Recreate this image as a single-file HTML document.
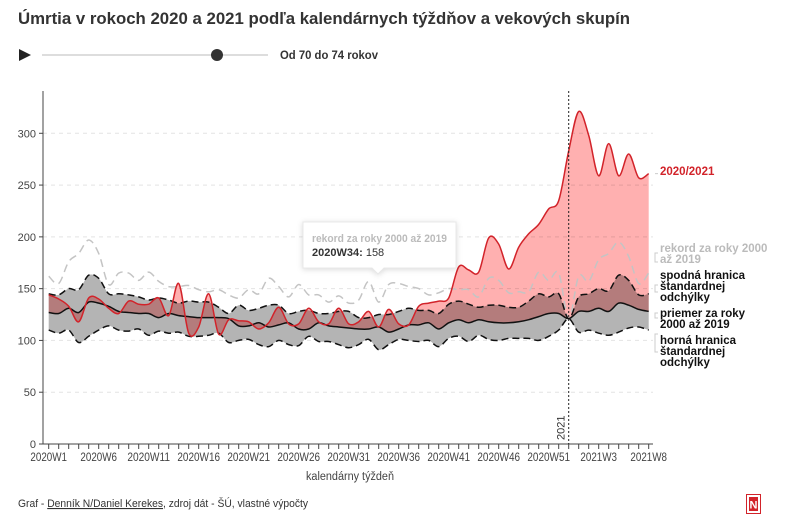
<!DOCTYPE html>
<html><head><meta charset="utf-8"><style>
body{margin:0;width:800px;height:531px;background:#fff;font-family:"Liberation Sans",sans-serif;overflow:hidden}
svg{display:block}
</style></head><body>
<svg id="c" width="800" height="531" xmlns="http://www.w3.org/2000/svg">
<text x="18" y="24" font-size="17" font-weight="bold" fill="#333" textLength="612" lengthAdjust="spacingAndGlyphs">Úmrtia v rokoch 2020 a 2021 podľa kalendárnych týždňov a vekových skupín</text>
<polygon points="19,49 19,61 31,55" fill="#222"/>
<line x1="42" y1="55" x2="268" y2="55" stroke="#ddd" stroke-width="2"/>
<circle cx="217" cy="55" r="6" fill="#333"/>
<text x="280" y="59" font-size="11.5" font-weight="bold" fill="#333" textLength="98" lengthAdjust="spacingAndGlyphs">Od 70 do 74 rokov</text>
<g id="plot"></g>
<text x="18" y="507" font-size="11" fill="#333" textLength="290" lengthAdjust="spacingAndGlyphs">Graf - <tspan text-decoration="underline">Denník N/Daniel Kerekes</tspan>, zdroj dát - ŠÚ, vlastné výpočty</text>
<rect x="746.5" y="494.5" width="14" height="19" fill="#fff" stroke="#d2232a"/>
<rect x="749" y="497" width="9" height="14" fill="#d2232a"/>
<text x="753.5" y="508.5" font-size="11" font-weight="bold" fill="#fff" text-anchor="middle">N</text>
</svg>
<script>
const weeks=[];for(let i=1;i<=53;i++)weeks.push('2020W'+i);for(let i=1;i<=8;i++)weeks.push('2021W'+i);
const current=[144,140,133,118,141,140,131,126,138,135,135,141,124,155,107,113,145,106,120,119,118,111,117,132,116,116,131,118,116,131,116,118,128,113,130,116,115,133,136,138,141,171,168,166,199,193,169,190,203,212,227,235,283,321,298,259,290,259,280,257,261];
const meanV=[127,126,131,127,137,136,133,128,127,126,126,122,126,124,123,122,122,122,121,114,114,117,113,115,117,111,111,117,114,113,112,111,111,113,108,111,115,115,117,111,117,120,117,120,118,117,117,118,120,123,126,126,121,128,128,131,128,136,134,130,128];
const upperV=[145,144,150,149,163,160,145,145,144,142,139,141,139,136,138,137,137,132,126,134,129,131,134,134,126,128,129,126,126,128,128,122,122,125,125,128,131,129,129,126,135,138,135,132,134,134,132,132,138,145,142,145,121,142,145,150,148,163,158,144,145];
const lowerV=[110,107,110,98,104,110,114,110,109,111,105,109,107,108,104,104,105,107,98,100,101,96,94,100,96,95,104,99,99,96,93,96,101,91,96,101,100,99,100,94,102,104,99,105,101,100,102,102,102,100,104,110,121,108,110,107,105,108,112,113,110];
const recordV=[162,155,176,184,197,184,154,165,165,158,166,157,152,152,153,149,147,149,144,141,149,145,160,152,142,154,144,144,137,143,136,139,157,137,154,155,152,150,144,146,150,149,149,142,160,158,146,147,147,166,158,165,121,162,157,178,184,195,181,155,165];
const yTicks=[0,50,100,150,200,250,300];
const xLabelIdx=[0,5,10,15,20,25,30,35,40,45,50,55,60];

const NS='http://www.w3.org/2000/svg';
const g=document.getElementById('plot');
const X0=48.7,DX=10,Y0=444,KY=1.0357;
const xs=i=>X0+i*DX, ys=v=>Y0-v*KY;
function mk(t,a,p){const e=document.createElementNS(NS,t);for(const k in a)e.setAttribute(k,a[k]);(p||g).appendChild(e);return e;}
function pts(arr){return arr.map((v,i)=>[xs(i),ys(v)]);}
function spline(p,move){let d=move?'M'+p[0][0]+','+p[0][1]:'L'+p[0][0]+','+p[0][1];
 for(let i=0;i<p.length-1;i++){const p0=p[i-1]||p[i],p1=p[i],p2=p[i+1],p3=p[i+2]||p2;
  const c1=[p1[0]+(p2[0]-p0[0])/6,p1[1]+(p2[1]-p0[1])/6],c2=[p2[0]-(p3[0]-p1[0])/6,p2[1]-(p3[1]-p1[1])/6];
  d+=`C${c1[0].toFixed(1)},${c1[1].toFixed(1)} ${c2[0].toFixed(1)},${c2[1].toFixed(1)} ${p2[0].toFixed(1)},${p2[1].toFixed(1)}`;}
 return d;}
function area(a,b){return spline(pts(a),true)+spline(pts(b).reverse(),false)+'Z';}
yTicks.forEach(v=>{if(v>0){const l=mk('line',{x1:43,x2:653,y1:ys(v),y2:ys(v),stroke:'#e4e4e4','stroke-dasharray':'4,4'});

}
const t=mk('text',{x:36,y:ys(v)+4,'font-size':11,fill:'#444','text-anchor':'end'});t.textContent=v;


mk('line',{x1:39,x2:43,y1:ys(v),y2:ys(v),stroke:'#444'});});
const band=mk('path',{d:area(upperV,lowerV),fill:'#b4b4b4'});


const ra=mk('path',{d:area(current,meanV),fill:'#ffb0b0',style:'mix-blend-mode:multiply'});


const rec=mk('path',{d:spline(pts(recordV),true),fill:'none',stroke:'#c4c4c4','stroke-width':1.5,'stroke-dasharray':'8,5'});


const up=mk('path',{d:spline(pts(upperV),true),fill:'none',stroke:'#111','stroke-width':1.5,'stroke-dasharray':'7,4'});


const lo=mk('path',{d:spline(pts(lowerV),true),fill:'none',stroke:'#111','stroke-width':1.5,'stroke-dasharray':'7,4'});


const mn=mk('path',{d:spline(pts(meanV),true),fill:'none',stroke:'#111','stroke-width':1.5});


const cur=mk('path',{d:spline(pts(current),true),fill:'none',stroke:'#d2232a','stroke-width':1.5});


mk('line',{x1:43,x2:43,y1:91,y2:444,stroke:'#444'});
mk('line',{x1:43,x2:653,y1:444,y2:444,stroke:'#444'});
weeks.forEach((w,i)=>{mk('line',{x1:xs(i),x2:xs(i),y1:444,y2:449,stroke:'#444'});});
xLabelIdx.forEach(i=>{const t=mk('text',{x:xs(i),y:461,'font-size':12,fill:'#444','text-anchor':'middle',textLength:(weeks[i].length*6.1).toFixed(1),lengthAdjust:'spacingAndGlyphs'});t.textContent=weeks[i];

});
const xt=mk('text',{x:350,y:480,'font-size':11.5,fill:'#444','text-anchor':'middle',textLength:88,lengthAdjust:'spacingAndGlyphs'});xt.textContent='kalendárny týždeň';


const yr=mk('line',{x1:xs(52),x2:xs(52),y1:91,y2:444,stroke:'#222','stroke-dasharray':'2,2'});


const yt=mk('text',{x:0,y:0,'font-size':11,fill:'#333',transform:`translate(${xs(52)-4},440) rotate(-90)`});yt.textContent='2021';


const tg=mk('g',{});


mk('path',{d:'M303,222 H456 V268 H384 L378,274 L372,268 H303 Z',fill:'#fff',stroke:'#e8e8e8',style:'filter:drop-shadow(0 1px 3px rgba(0,0,0,.15))'},tg);
let t1=mk('text',{x:312,y:242,'font-size':11,'font-weight':'bold',fill:'#bbb',textLength:135,lengthAdjust:'spacingAndGlyphs'},tg);t1.textContent='rekord za roky 2000 až 2019';
let t2=mk('text',{x:312,y:256,'font-size':11,fill:'#333'},tg);t2.innerHTML='<tspan font-weight="bold">2020W34:</tspan> 158';
function lab(lines,y,color,name){const t=mk('text',{x:660,y:y,'font-size':11.5,'font-weight':'bold',fill:color});


lines.forEach((s,k)=>{const sp=mk('tspan',{x:660,dy:k?11:0},t);sp.textContent=s;});}
lab(['2020/2021'],175,'#d2232a','label-2020-2021');
lab(['rekord za roky 2000','až 2019'],252,'#bbb','label-record');
lab(['spodná hranica','štandardnej','odchýlky'],279,'#111','label-upper-std');
lab(['priemer za roky','2000 až 2019'],317,'#111','label-mean');
lab(['horná hranica','štandardnej','odchýlky'],344,'#111','label-lower-std');
[[ys(261),ys(261)],[253,262],[285,292],[313,318],[334,352]].forEach(([a,b])=>{mk('path',{d:`M658,${a} H655 V${b} H658`,fill:'none',stroke:'#ccc'});});
</script>
</body></html>
